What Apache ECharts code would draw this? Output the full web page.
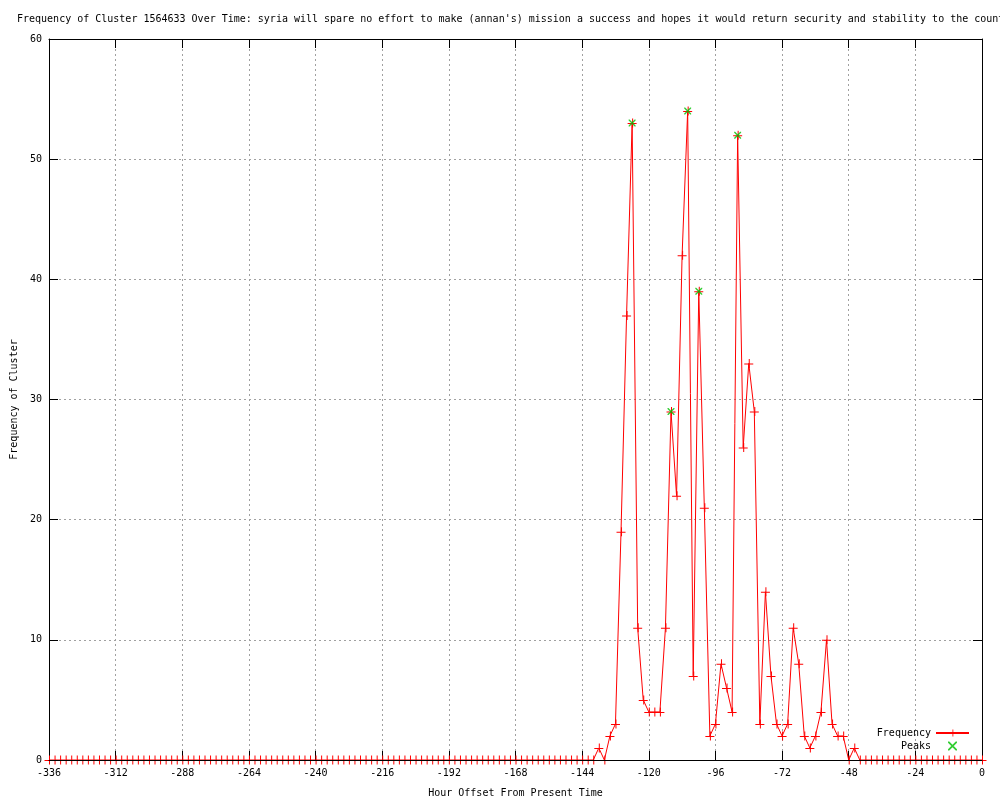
<!DOCTYPE html>
<html><head><meta charset="utf-8">
<script src="https://cdn.jsdelivr.net/npm/echarts@6/dist/echarts.min.js"></script>
<style>html,body{margin:0;padding:0;background:#fff}#c{width:1000px;height:800px}</style>
</head><body><div id="c"></div>
<script>
const titleText = "Frequency of Cluster 1564633 Over Time: syria will spare no effort to make (annan's) mission a success and hopes it would return security and stability to the country";
const xAxisName = "Hour Offset From Present Time";
const yAxisName = "Frequency of Cluster";

const hours = [
-336,-334,-332,-330,-328,-326,-324,-322,-320,-318,
-316,-314,-312,-310,-308,-306,-304,-302,-300,-298,
-296,-294,-292,-290,-288,-286,-284,-282,-280,-278,
-276,-274,-272,-270,-268,-266,-264,-262,-260,-258,
-256,-254,-252,-250,-248,-246,-244,-242,-240,-238,
-236,-234,-232,-230,-228,-226,-224,-222,-220,-218,
-216,-214,-212,-210,-208,-206,-204,-202,-200,-198,
-196,-194,-192,-190,-188,-186,-184,-182,-180,-178,
-176,-174,-172,-170,-168,-166,-164,-162,-160,-158,
-156,-154,-152,-150,-148,-146,-144,-142,-140,-138,
-136,-134,-132,-130,-128,-126,-124,-122,-120,-118,
-116,-114,-112,-110,-108,-106,-104,-102,-100,-98,
-96,-94,-92,-90,-88,-86,-84,-82,-80,-78,
-76,-74,-72,-70,-68,-66,-64,-62,-60,-58,
-56,-54,-52,-50,-48,-46,-44,-42,-40,-38,
-36,-34,-32,-30,-28,-26,-24,-22,-20,-18,
-16,-14,-12,-10,-8,-6,-4,-2,0
];
const frequency = [
0,0,0,0,0,0,0,0,0,0,
0,0,0,0,0,0,0,0,0,0,
0,0,0,0,0,0,0,0,0,0,
0,0,0,0,0,0,0,0,0,0,
0,0,0,0,0,0,0,0,0,0,
0,0,0,0,0,0,0,0,0,0,
0,0,0,0,0,0,0,0,0,0,
0,0,0,0,0,0,0,0,0,0,
0,0,0,0,0,0,0,0,0,0,
0,0,0,0,0,0,0,0,0,1,
0,2,3,19,37,53,11,5,4,4,
4,11,29,22,42,54,7,39,21,2,
3,8,6,4,52,26,33,29,3,14,
7,3,2,3,11,8,2,1,2,4,
10,3,2,2,0,1,0,0,0,0,
0,0,0,0,0,0,0,0,0,0,
0,0,0,0,0,0,0,0,0
];
const peakHours = [-126, -112, -106, -102, -88];
const peakValues = [53, 29, 54, 39, 52];

const FONT = "DejaVu Sans Mono";
const plusPath = 'path://M0,4.5H9V5.5H0Z M4.5,0H5.5V9H4.5Z';
const xPath = 'path://M0,0L1,0L7,6L7,7L6,7L0,1Z M6,0L7,0L7,1L1,7L0,7L0,6Z';
const gridLine = {show:true, lineStyle:{color:'#a0a0a0', type:[2,3], width:1}};

const chart = echarts.init(document.getElementById('c'), null, {renderer:'canvas'});
chart.setOption({
  animation:false,
  backgroundColor:'#fff',
  title:{text:titleText, left:17, top:14, padding:0,
         textStyle:{fontFamily:FONT, fontSize:10, fontWeight:'normal', color:'#000'}},
  legend:{
    data:['Frequency','Peaks'], orient:'vertical', right:30, top:728, align:'right', padding:0,
    itemWidth:33, itemHeight:9, itemGap:3,
    textStyle:{fontFamily:FONT, fontSize:10, color:'#000'}
  },
  grid:{left:49, right:18, top:39, bottom:40, containLabel:false, outerBoundsMode:'none'},
  xAxis:[
    {type:'value', min:-336, max:0, interval:24, position:'bottom',
     name:xAxisName, nameLocation:'middle', nameGap:28,
     nameTextStyle:{fontFamily:FONT, fontSize:10, color:'#000'},
     axisLine:{show:true, onZero:false, lineStyle:{color:'#000'}},
     axisTick:{show:true, inside:true, length:9, lineStyle:{color:'#000'}},
     axisLabel:{fontFamily:FONT, fontSize:10, color:'#000', margin:8},
     splitLine:gridLine},
    {type:'value', min:-336, max:0, interval:24, position:'top',
     axisLine:{show:true, onZero:false, lineStyle:{color:'#000'}},
     axisTick:{show:true, inside:true, length:9, lineStyle:{color:'#000'}},
     axisLabel:{show:false}, splitLine:{show:false}},
    {type:'value', min:-336, max:0, position:'bottom', z:10,
     axisLine:{show:true, onZero:false, lineStyle:{color:'#000'}},
     axisTick:{show:false}, axisLabel:{show:false}, splitLine:{show:false}}
  ],
  yAxis:[
    {type:'value', min:0, max:60, interval:10, position:'left',
     name:yAxisName, nameLocation:'middle', nameGap:30,
     nameTextStyle:{fontFamily:FONT, fontSize:10, color:'#000'},
     axisLine:{show:true, onZero:false, lineStyle:{color:'#000'}},
     axisTick:{show:true, inside:true, length:9, lineStyle:{color:'#000'}},
     axisLabel:{fontFamily:FONT, fontSize:10, color:'#000', margin:7},
     splitLine:gridLine},
    {type:'value', min:0, max:60, interval:10, position:'right',
     axisLine:{show:true, onZero:false, lineStyle:{color:'#000'}},
     axisTick:{show:true, inside:true, length:9, lineStyle:{color:'#000'}},
     axisLabel:{show:false}, splitLine:{show:false}}
  ],
  series:[
    {name:'Frequency', type:'line', xAxisIndex:0, yAxisIndex:0,
     data:hours.map((h,i)=>[h,frequency[i]]),
     symbol:plusPath, symbolSize:9, showAllSymbol:true,
     lineStyle:{color:'#ff0000', width:1}, itemStyle:{color:'#ff0000'},
     emphasis:{disabled:true}, z:2},
    {name:'Peaks', type:'scatter', xAxisIndex:0, yAxisIndex:0,
     data:peakHours.map((h,i)=>[h,peakValues[i]]),
     symbol:xPath, symbolSize:7, itemStyle:{color:'#00c000'},
     emphasis:{disabled:true}, z:3}
  ]
});
</script>
</body></html>
